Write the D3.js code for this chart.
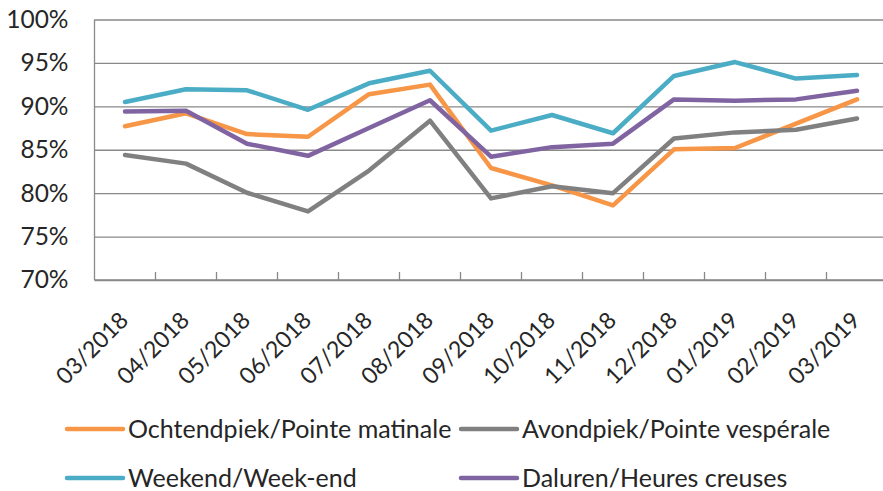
<!DOCTYPE html>
<html>
<head>
<meta charset="utf-8">
<script src="https://cdn.jsdelivr.net/npm/d3@7"></script>
<style>
  body { margin: 0; background: #fff; }
  svg { display: block; font-family: Lato, "Open Sans", sans-serif; }
</style>
</head>
<body>
<svg id="chart"></svg>
<script>
  let months = ["03/2018", "04/2018", "05/2018", "06/2018", "07/2018", "08/2018", "09/2018",
    "10/2018", "11/2018", "12/2018", "01/2019", "02/2019", "03/2019"];
  let yTicks = [70, 75, 80, 85, 90, 95, 100];

  let ochtendpiek = [87.7, 89.2, 86.8, 86.5, 91.4, 92.5, 82.9, 80.9, 78.6, 85.05, 85.2, 88.0, 90.8];
  let avondpiek = [84.4, 83.4, 80.05, 77.9, 82.6, 88.35, 79.4, 80.8, 80.0, 86.3, 87.0, 87.3, 88.6];
  let weekend = [90.5, 91.96, 91.85, 89.6, 92.65, 94.1, 87.2, 89.0, 86.9, 93.5, 95.1, 93.2, 93.6];
  let daluren = [89.4, 89.5, 85.7, 84.3, 87.5, 90.7, 84.2, 85.3, 85.7, 90.8, 90.65, 90.8, 91.8];

  let series = [
    { name: "Ochtendpiek/Pointe matinale", values: ochtendpiek, color: "#f79646" },
    { name: "Avondpiek/Pointe vespérale", values: avondpiek, color: "#808080" },
    { name: "Weekend/Week-end", values: weekend, color: "#4bacc6" },
    { name: "Daluren/Heures creuses", values: daluren, color: "#8064a2" }
  ];

  let svgWidth = 883, svgHeight = 491;
  let plotLeft = 94.5, plotTop = 19.5, plotBottom = 280, bandW = 61;

  let svg = d3.select("#chart")
    .attr("width", svgWidth)
    .attr("height", svgHeight);

  let x = d3.scaleBand()
    .domain(months)
    .range([plotLeft, plotLeft + bandW * months.length]);
  let y = d3.scaleLinear()
    .domain([70, 100])
    .range([plotBottom, plotTop]);

  // gridlines + y labels
  let yAxis = svg.append("g")
    .attr("transform", "translate(" + plotLeft + ",0)")
    .call(d3.axisLeft(y).tickValues(yTicks).tickSize(-(svgWidth - plotLeft)).tickFormat(d => d + "%"));
  yAxis.select(".domain").remove();
  yAxis.selectAll(".tick line").attr("stroke", "#898989").attr("stroke-width", 1.3);
  yAxis.selectAll(".tick text")
    .attr("x", -26)
    .attr("fill", "#262626")
    .style("font-size", "24.5px")
    .style("font-family", "Lato, sans-serif");

  // axis lines
  svg.append("line")
    .attr("x1", plotLeft).attr("x2", plotLeft)
    .attr("y1", plotTop).attr("y2", plotBottom)
    .attr("stroke", "#898989").attr("stroke-width", 1.3);
  svg.append("line")
    .attr("x1", plotLeft).attr("x2", svgWidth)
    .attr("y1", plotBottom).attr("y2", plotBottom)
    .attr("stroke", "#898989").attr("stroke-width", 1.3);

  // tick marks at category boundaries, pointing inside
  svg.append("g").selectAll("line")
    .data(months.slice(1))
    .join("line")
    .attr("x1", d => x(d)).attr("x2", d => x(d))
    .attr("y1", plotBottom).attr("y2", plotBottom - 8)
    .attr("stroke", "#898989").attr("stroke-width", 1.3);

  // x labels
  svg.append("g").selectAll("text")
    .data(months)
    .join("text")
    .attr("transform", d => "translate(" + (x(d) + x.bandwidth() / 2 - 1) + ",316) rotate(-45)")
    .attr("text-anchor", "end")
    .attr("dy", "0.35em")
    .attr("fill", "#262626")
    .style("font-size", "23px")
    .text(d => d);

  let line = d3.line()
    .x((d, i) => x(months[i]) + x.bandwidth() / 2)
    .y(d => y(d));

  svg.append("g").selectAll("path")
    .data(series)
    .join("path")
    .attr("fill", "none")
    .attr("stroke", d => d.color)
    .attr("stroke-width", 4.5)
    .attr("stroke-linejoin", "round")
    .attr("stroke-linecap", "round")
    .attr("d", d => line(d.values));

  // legend
  let legendPos = [[67, 429], [461, 429], [67, 478], [461, 478]];
  let legend = svg.append("g").selectAll("g")
    .data(series)
    .join("g")
    .attr("transform", (d, i) => "translate(" + legendPos[i][0] + "," + legendPos[i][1] + ")");
  legend.append("line")
    .attr("x1", 0).attr("x2", 56)
    .attr("stroke", d => d.color)
    .attr("stroke-width", 4.5)
    .attr("stroke-linecap", "round");
  legend.append("text")
    .attr("x", 61)
    .attr("dy", "0.35em")
    .attr("fill", "#262626")
    .style("font-size", "25px")
    .text(d => d.name);
</script>
</body>
</html>
